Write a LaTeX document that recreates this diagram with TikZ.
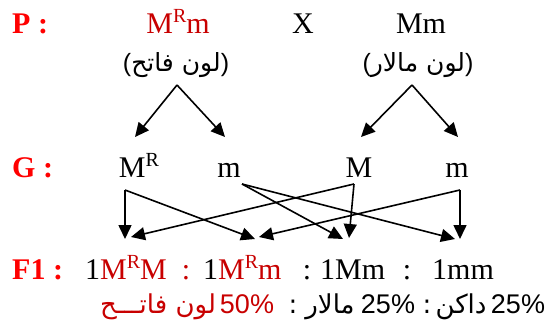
\documentclass[tikz,border=0pt]{standalone}
\usepackage{fontspec}
\setmainfont{Liberation Serif}
\newfontfamily\arabicfont[Script=Arabic]{DejaVu Sans}
\newfontfamily\digitfont{Liberation Sans}
\TeXXeTstate=1
\usetikzlibrary{arrows.meta}
\definecolor{pred}{RGB}{255,0,0}
\definecolor{dred}{RGB}{200,0,0}
\newcommand\myR{\raisebox{11pt}{\fontsize{20}{20}\selectfont R}}
\begin{document}
\begin{tikzpicture}[x=1pt,y=-1pt,
  lat/.style={inner sep=0pt, anchor=base, font=\fontsize{30}{34}\selectfont},
  latw/.style={inner sep=0pt, anchor=base west, font=\fontsize{30}{34}\selectfont},
  lbl/.style={inner sep=0pt, anchor=base west, text=pred, font=\fontsize{30}{34}\selectfont\bfseries},
  arab/.style={inner sep=0pt, anchor=base, font=\fontsize{25}{28}\selectfont\arabicfont},
  bot/.style={inner sep=0pt, anchor=base, font=\fontsize{26}{29}\selectfont\arabicfont},
  dig/.style={inner sep=0pt, anchor=base, font=\fontsize{27}{30}\selectfont\digitfont},
  ln/.style={line width=1.6pt},
  arr/.style={line width=1.6pt, -{Triangle[length=14pt,width=13pt]}}]
\useasboundingbox (0,0) rectangle (546,329);
% P row
\node[lbl] (P) at (12,34) {P :};
\node[lat, text=dred] (p1) at (178,34) {M\myR m};
\node[lat] (x) at (303,34) {X};
\node[lat] (p2) at (421,34) {Mm};
\node[arab] (l1) at (176,71) {{\digitfont(}\beginR لون فاتح\endR{\digitfont)}};
\node[arab] (l2) at (418,71) {{\digitfont(}\beginR لون مالار\endR{\digitfont)}};
% G row
\node[lbl] (G) at (12,177) {G :};
\node[lat] (g1) at (139,177) {M\myR};
\node[lat] (g2) at (229,177) {m};
\node[lat] (g3) at (359,177) {M};
\node[lat] (g4) at (457,177) {m};
% F1 row
\node[lbl] (F) at (12,279) {F1 :};
\node[latw] (f1) at (85,279) {1\textcolor{dred}{M\myR M}};
\node[lat, text=dred] (c1) at (186,279) {:};
\node[latw] (f2) at (203,279) {1\textcolor{dred}{M\myR m}};
\node[lat] (c2) at (307,279) {:};
\node[latw] (f3) at (320,279) {1Mm};
\node[lat] (c3) at (407,279) {:};
\node[latw] (f4) at (432,279) {1mm};
% bottom line
\node[bot, text=dred] (b1) at (158,313) {\beginR لون فاتـــح\endR};
\node[dig, text=dred] (b2) at (247,313) {50\%};
\node[bot] (b3) at (293,313) {:};
\node[bot] (b4) at (330,313) {\beginR مالار\endR};
\node[dig] (b5) at (388,313) {25\%};
\node[bot] (b6) at (427,313) {:};
\node[bot] (b7) at (461,313) {\beginR داكن\endR};
\node[dig] (b8) at (518,313) {25\%};
% parent to gamete arrows
\coordinate (ap1) at (177,85);
\coordinate (ap2) at (412,85);
\coordinate (t1) at (135,137);
\coordinate (t2) at (225,137);
\coordinate (t3) at (361,137);
\coordinate (t4) at (458,137);
\draw[arr] (ap1) -- (t1);
\draw[arr] (ap1) -- (t2);
\draw[arr] (ap2) -- (t3);
\draw[arr] (ap2) -- (t4);
% gamete to F1 arrows
\coordinate (s1) at (125,190);
\coordinate (s2) at (242,184);
\coordinate (s3) at (354,184);
\coordinate (s4) at (460,190);
\coordinate (e1a) at (125,239);
\coordinate (e1b) at (131,237);
\coordinate (e2a) at (255,239);
\coordinate (e2b) at (259,237);
\coordinate (e3a) at (343,239);
\coordinate (e3b) at (349,238);
\coordinate (e4a) at (455,239);
\coordinate (e4b) at (460,239);
\draw[arr] (s1) -- (e1a);
\draw[arr] (s1) -- (e2a);
\draw[arr] (s2) -- (e3a);
\draw[arr] (s2) -- (e4a);
\draw[arr] (s3) -- (e1b);
\draw[arr] (s3) -- (e3b);
\draw[arr] (s4) -- (e4b);
\draw[arr] (s4) -- (e2b);
\end{tikzpicture}
\end{document}
